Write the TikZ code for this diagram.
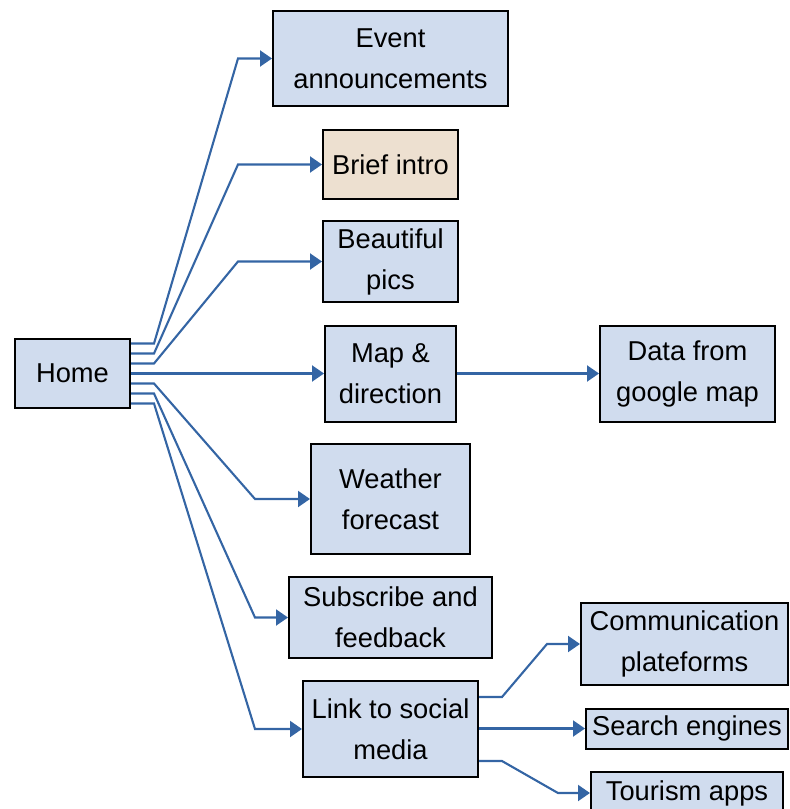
\documentclass[tikz,border=0pt]{standalone}
\usepackage{fontspec}
\setmainfont{Liberation Sans}
\usetikzlibrary{arrows.meta}
\definecolor{boxblue}{RGB}{208,220,238}
\definecolor{boxbeige}{RGB}{237,224,208}
\definecolor{linkblue}{RGB}{52,101,164}
\tikzset{
  box/.style={draw=black, line width=2pt, fill=boxblue, inner sep=0pt, align=center,
    font=\fontsize{27.3}{41}\selectfont},
  conn/.style={draw=linkblue, line width=2.1pt, line join=miter,
    -{Triangle[length=12pt,width=16pt]}}
}
\begin{document}
\begin{tikzpicture}[x=1pt,y=-1pt]
\useasboundingbox (0,0) rectangle (790,809);
% nodes
\node[box, minimum width=115pt, minimum height=69pt] (home) at (72.5,373.5) {Home};
\node[box, minimum width=235pt, minimum height=95pt] (event) at (390.5,58.5) {Event\\announcements};
\node[box, fill=boxbeige, minimum width=135pt, minimum height=69pt] (brief) at (390.5,164.5) {Brief intro};
\node[box, minimum width=135pt, minimum height=81pt] (pics) at (390.5,261.5) {Beautiful\\pics};
\node[box, minimum width=131pt, minimum height=96pt] (map) at (390.5,373.5) {Map \&\\direction};
\node[box, minimum width=175pt, minimum height=96pt] (data) at (687.5,373.5) {Data from\\google map};
\node[box, minimum width=159pt, minimum height=110pt] (weather) at (390.5,499) {Weather\\forecast};
\node[box, minimum width=203pt, minimum height=81pt] (subscribe) at (390.5,617.5) {Subscribe and\\feedback};
\node[box, minimum width=175pt, minimum height=96pt] (link) at (390.5,729) {Link to social\\media};
\node[box, minimum width=207pt, minimum height=82pt] (comm) at (684.5,644) {Communication\\plateforms};
\node[box, minimum width=202pt, minimum height=40pt] (search) at (687,728.5) {Search engines};
\node[box, minimum width=192pt, minimum height=42pt] (tourism) at (687,793) {Tourism apps};
% bend coordinates
\coordinate (bu) at (238,0);
\coordinate (bd) at (255,0);
\coordinate (bc) at (547,0);
\coordinate (bt) at (558,0);
% connectors from home
\draw[conn] ([yshift=30pt]home.east) -- ++(23,0) -- (bu |- event.west) -- (event.west);
\draw[conn] ([yshift=20pt]home.east) -- ++(23,0) -- (bu |- brief.west) -- (brief.west);
\draw[conn] ([yshift=10pt]home.east) -- ++(23,0) -- (bu |- pics.west) -- (pics.west);
\draw[conn] (home.east) -- (map.west);
\draw[conn] ([yshift=-10pt]home.east) -- ++(23,0) -- (bd |- weather.west) -- (weather.west);
\draw[conn] ([yshift=-20pt]home.east) -- ++(23,0) -- (bd |- subscribe.west) -- (subscribe.west);
\draw[conn] ([yshift=-30pt]home.east) -- ++(23,0) -- (bd |- link.west) -- (link.west);
% map to data
\draw[conn] (map.east) -- (data.west);
% link children
\draw[conn] ([yshift=32pt]link.east) -- ++(23,0) -- (bc |- comm.west) -- (comm.west);
\draw[conn] (link.east |- search.west) -- (search.west);
\draw[conn] ([yshift=-32pt]link.east) -- ++(23,0) -- (bt |- tourism.west) -- (tourism.west);
\end{tikzpicture}
\end{document}
